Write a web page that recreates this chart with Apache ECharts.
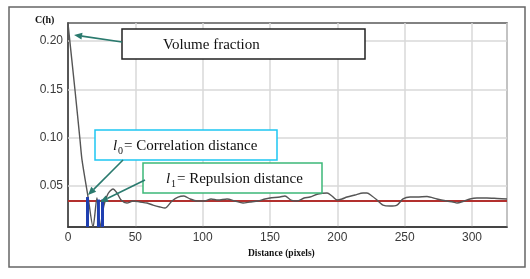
<!DOCTYPE html>
<html><head><meta charset="utf-8">
<script src="https://cdn.jsdelivr.net/npm/echarts@6/dist/echarts.min.js"></script>
<style>html,body{margin:0;padding:0;background:#fff}#c{width:530px;height:279px}</style>
</head><body><div id="c"></div>
<script>
// ---- data ----
const distance = [0,5.2,8.9,10.4,14.9,18.6,21.5,23.8,26.7,29.7,33.4,36.4,39.4,43.8,48.3,53.5,58.7,63.1,68.3,72.0,77.2,81.7,86.1,90.6,95.8,101.7,106.2,111.4,118.1,124.0,130.0,135.1,141.1,146.3,150.0,157.4,161.1,165.6,170.1,175.3,179.7,185.7,192.4,196.0,199.8,203.5,207.2,213.1,219.1,222.0,225.7,229.5,233.9,239.1,244.3,248.8,254.0,259.2,266.6,274.0,281.4,285.9,288.9,293.3,298.5,303.7,311.1,318.6,326];
const correlation = [0.218,0.149,0.098,0.077,0.0386,0.0076,0.038,0.0076,0.030,0.042,0.0469,0.0428,0.0355,0.0324,0.0345,0.0334,0.0324,0.0303,0.0283,0.0272,0.0345,0.0386,0.0397,0.0366,0.0345,0.0345,0.0366,0.0355,0.0366,0.0345,0.0324,0.0334,0.0345,0.0366,0.0376,0.0386,0.0397,0.0355,0.0345,0.0376,0.0386,0.0417,0.0428,0.0397,0.0355,0.0366,0.0386,0.0407,0.0428,0.0428,0.0397,0.0355,0.0303,0.0293,0.0303,0.0366,0.0386,0.0386,0.0391,0.0366,0.0345,0.0334,0.0324,0.0340,0.0366,0.0376,0.0376,0.0371,0.0366];
const meanLevel = 0.0345;
const markerX = [14.5, 22.6, 25.6];
const markerY = [0.0386, 0.036, 0.036];
const yTickValues = [0.05, 0.10, 0.15, 0.20];
const xTickInterval = 50;
const xRange = [0, 326];
const yRange = [0.0076, 0.2186];
// annotation arrow tips in data coordinates
const arrowTips = [[4.5, 0.2062], [14.9, 0.0407], [23.8, 0.0334]];

const chart = echarts.init(document.getElementById('c'));
const sans = 'Liberation Sans', serif = 'Liberation Serif';
chart.setOption({
  animation: false,
  grid: {left: 68, top: 23, right: 23, bottom: 52, containLabel: false, show: true, borderColor: '#5a5a5a', borderWidth: 1.5},
  xAxis: {
    type: 'value', min: xRange[0], max: xRange[1], interval: xTickInterval,
    axisLine: {lineStyle: {color: '#333', width: 1.5}}, axisTick: {show: false},
    axisLabel: {color: '#3a3a3a', fontFamily: sans, fontSize: 12, margin: 5, showMaxLabel: false},
    splitLine: {show: true, lineStyle: {color: '#d9d9d9', width: 1.5}}
  },
  yAxis: {
    type: 'value', min: yRange[0], max: yRange[1],
    axisLine: {show: true, lineStyle: {color: '#333', width: 1.5}}, axisTick: {show: false},
    axisLabel: {customValues: yTickValues, formatter: v => v.toFixed(2), color: '#3a3a3a', fontFamily: sans, fontSize: 12, margin: 5},
    splitLine: {show: false}
  },
  series: [
    {type: 'line', data: [[xRange[0], meanLevel], [xRange[1], meanLevel]], symbol: 'none',
     lineStyle: {color: '#b3302e', width: 2}, z: 3,
     markLine: {silent: true, symbol: 'none', label: {show: false}, lineStyle: {color: '#d9d9d9', width: 1.5, type: 'solid'},
       data: yTickValues.map(v => ({yAxis: v})), z: 1}},
    {type: 'line', data: distance.map((d, i) => [d, correlation[i]]), symbol: 'none', smooth: 0.25,
     lineStyle: {color: '#555', width: 1.4}, z: 4},
    {type: 'bar', data: markerX.map((d, i) => [d, markerY[i]]), barWidth: 3,
     itemStyle: {color: '#1f3fb0'}, z: 5}
  ]
});

function arrow(x1, y1, x2, y2) {
  const a = Math.atan2(y2 - y1, x2 - x1), L = 8, W = 3.5, c = '#2a7a6e';
  const bx = x2 - L * Math.cos(a), by = y2 - L * Math.sin(a);
  return [
    {type: 'line', z: 110, shape: {x1, y1, x2: bx, y2: by}, style: {stroke: c, lineWidth: 1.6}},
    {type: 'polygon', z: 110, shape: {points: [[x2, y2], [bx - W * Math.sin(a), by + W * Math.cos(a)], [bx + W * Math.sin(a), by - W * Math.cos(a)]]}, style: {fill: c}}
  ];
}
const tips = arrowTips.map(p => chart.convertToPixel({gridIndex: 0}, p));
const tails = [[122, 42], [123, 160], [145, 180]];
const txt = (x, y, text, font) => ({type: 'text', z: 120, x, y, style: {text, font, fill: '#111', align: 'left', verticalAlign: 'middle'}});
const g = [
  {type: 'rect', z: 0, shape: {x: 9, y: 7, width: 516, height: 260}, style: {fill: 'none', stroke: '#666', lineWidth: 1.5}},
  {type: 'rect', z: 100, shape: {x: 122, y: 29, width: 243, height: 30}, style: {fill: '#fff', stroke: '#222', lineWidth: 1.5}},
  {type: 'rect', z: 100, shape: {x: 95, y: 130, width: 182, height: 30}, style: {fill: '#fff', stroke: '#1ec6f2', lineWidth: 1.5}},
  {type: 'rect', z: 100, shape: {x: 143, y: 163, width: 179, height: 30}, style: {fill: '#fff', stroke: '#3cb878', lineWidth: 1.5}},
  txt(163, 45, 'Volume fraction', '15px ' + serif),
  txt(113, 146, 'l', 'italic 15px ' + serif),
  txt(118, 151, '0', '10px ' + serif),
  txt(124, 146, '= Correlation distance', '15px ' + serif),
  txt(166, 179, 'l', 'italic 15px ' + serif),
  txt(171, 184, '1', '10px ' + serif),
  txt(177, 179, '= Repulsion distance', '15px ' + serif),
  txt(35, 20, 'C(h)', 'bold 10px ' + serif),
  txt(248, 254, 'Distance (pixels)', 'bold 9.5px ' + serif)
];
tips.forEach((t, i) => g.push(...arrow(tails[i][0], tails[i][1], t[0], t[1])));
chart.setOption({graphic: g});
</script></body></html>
